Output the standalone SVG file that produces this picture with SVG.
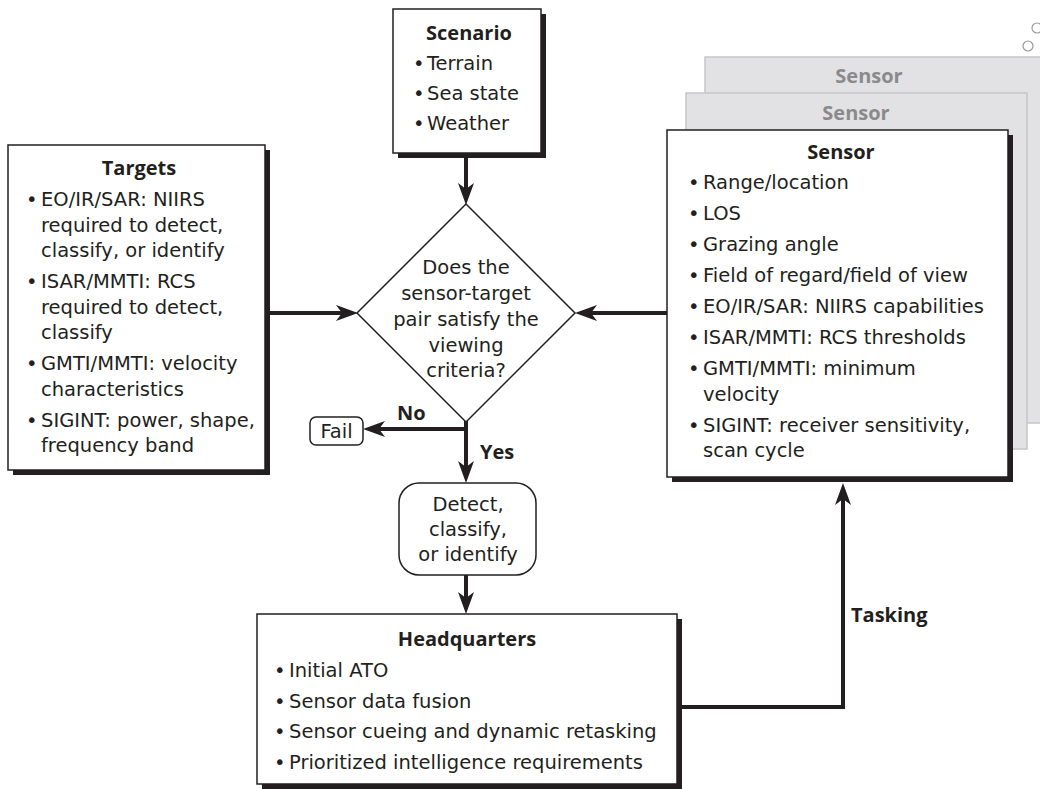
<svg xmlns="http://www.w3.org/2000/svg" width="1040" height="789" viewBox="0 0 1040 789">
<style>
text{font-family:"DejaVu Sans","Open Sans",sans-serif;font-size:19.5px;fill:#231f20}
.t,.b,.gt{font-family:"Open Sans","DejaVu Sans",sans-serif;font-size:20px;font-weight:bold}
.t,.c,.gt{text-anchor:middle}
.box{fill:#fff;stroke:#231f20;stroke-width:1.5}
.sh{fill:#231f20}
.back{fill:#e2e2e4;stroke:#c6c6c8;stroke-width:1.5}
.gt{fill:#8a8a8c}
.con{fill:none;stroke:#231f20;stroke-width:4}
</style>
<defs>
<marker id="ah" markerUnits="userSpaceOnUse" markerWidth="30" markerHeight="30" viewBox="-2 -12 30 24" refX="16" refY="0" orient="auto">
<path d="M0,-8 L22,0 L0,8 L6,0 Z" fill="#231f20"/>
</marker>
</defs>

<g id="decor">
<circle cx="1037" cy="28" r="5" fill="#fff" stroke="#9a9a9c" stroke-width="1.2"/>
<circle cx="1028" cy="46" r="5" fill="#fff" stroke="#9a9a9c" stroke-width="1.2"/>
</g>

<g id="sensor3">
<rect class="back" x="705" y="57" width="345" height="366"/>
<text class="gt" x="869" y="83">Sensor</text>
</g>
<g id="sensor2">
<rect class="back" x="686" y="93" width="341" height="356"/>
<text class="gt" x="856" y="120">Sensor</text>
</g>

<g id="connectors">
<line class="con" x1="466" y1="157" x2="466" y2="199" marker-end="url(#ah)"/>
<line class="con" x1="269" y1="313" x2="352" y2="313" marker-end="url(#ah)"/>
<line class="con" x1="667" y1="313" x2="581" y2="313" marker-end="url(#ah)"/>
<line class="con" x1="466" y1="429" x2="369" y2="429" marker-end="url(#ah)"/>
<line class="con" x1="466" y1="420" x2="466" y2="477" marker-end="url(#ah)"/>
<line class="con" x1="466" y1="575" x2="466" y2="608" marker-end="url(#ah)"/>
<polyline class="con" points="681,707 843,707 843,489" marker-end="url(#ah)"/>
<text class="b" x="397" y="420">No</text>
<text class="b" x="480" y="459">Yes</text>
<text class="b" x="851" y="622">Tasking</text>
</g>

<g id="scenario">
<rect class="sh" x="398" y="14" width="148" height="144"/>
<rect class="box" x="393" y="9" width="148" height="144"/>
<text class="t" x="469" y="40">Scenario</text>
<text x="413" y="70">•</text><text x="427" y="70">Terrain</text>
<text x="413" y="100">•</text><text x="427" y="100">Sea state</text>
<text x="413" y="130">•</text><text x="427" y="130">Weather</text>
</g>

<g id="targets">
<rect class="sh" x="13" y="150" width="257" height="325"/>
<rect class="box" x="8" y="145" width="257" height="325"/>
<text class="t" x="139" y="175">Targets</text>
<text x="26" y="206">•</text><text x="41" y="206">EO/IR/SAR: NIIRS</text>
<text x="41" y="231.5">required to detect,</text>
<text x="41" y="257">classify, or identify</text>
<text x="26" y="288">•</text><text x="41" y="288">ISAR/MMTI: RCS</text>
<text x="41" y="313.5">required to detect,</text>
<text x="41" y="339">classify</text>
<text x="26" y="370">•</text><text x="41" y="370">GMTI/MMTI: velocity</text>
<text x="41" y="395.5">characteristics</text>
<text x="26" y="426.5">•</text><text x="41" y="426.5">SIGINT: power, shape,</text>
<text x="41" y="452">frequency band</text>
</g>

<g id="decision">
<polygon class="box" points="466,204 575,313 466,422 357,313"/>
<text class="c" x="466" y="274">Does the</text>
<text class="c" x="466" y="300">sensor-target</text>
<text class="c" x="466" y="326">pair satisfy the</text>
<text class="c" x="466" y="352">viewing</text>
<text class="c" x="466" y="377">criteria?</text>
</g>

<g id="fail">
<rect class="box" x="310" y="417" width="53" height="28" rx="6"/>
<text class="c" x="336.5" y="438">Fail</text>
</g>

<g id="detect">
<rect class="box" x="399" y="483" width="137" height="92" rx="20"/>
<text class="c" x="468" y="511">Detect,</text>
<text class="c" x="468" y="536">classify,</text>
<text class="c" x="468" y="561">or identify</text>
</g>

<g id="sensor">
<rect class="sh" x="672" y="135" width="341" height="347"/>
<rect class="box" x="667" y="130" width="341" height="347"/>
<text class="t" x="841" y="159">Sensor</text>
<text x="688" y="189">•</text><text x="703" y="189">Range/location</text>
<text x="688" y="220">•</text><text x="703" y="220">LOS</text>
<text x="688" y="251">•</text><text x="703" y="251">Grazing angle</text>
<text x="688" y="282">•</text><text x="703" y="282">Field of regard/field of view</text>
<text x="688" y="313">•</text><text x="703" y="313">EO/IR/SAR: NIIRS capabilities</text>
<text x="688" y="344">•</text><text x="703" y="344">ISAR/MMTI: RCS thresholds</text>
<text x="688" y="375">•</text><text x="703" y="375">GMTI/MMTI: minimum</text>
<text x="703" y="400.5">velocity</text>
<text x="688" y="431.5">•</text><text x="703" y="431.5">SIGINT: receiver sensitivity,</text>
<text x="703" y="457">scan cycle</text>
</g>

<g id="headquarters">
<rect class="sh" x="262" y="619" width="420" height="170"/>
<rect class="box" x="257" y="614" width="420" height="170"/>
<text class="t" x="467" y="646">Headquarters</text>
<text x="274" y="677">•</text><text x="289" y="677">Initial ATO</text>
<text x="274" y="708">•</text><text x="289" y="708">Sensor data fusion</text>
<text x="274" y="738">•</text><text x="289" y="738">Sensor cueing and dynamic retasking</text>
<text x="274" y="769">•</text><text x="289" y="769">Prioritized intelligence requirements</text>
</g>
</svg>
